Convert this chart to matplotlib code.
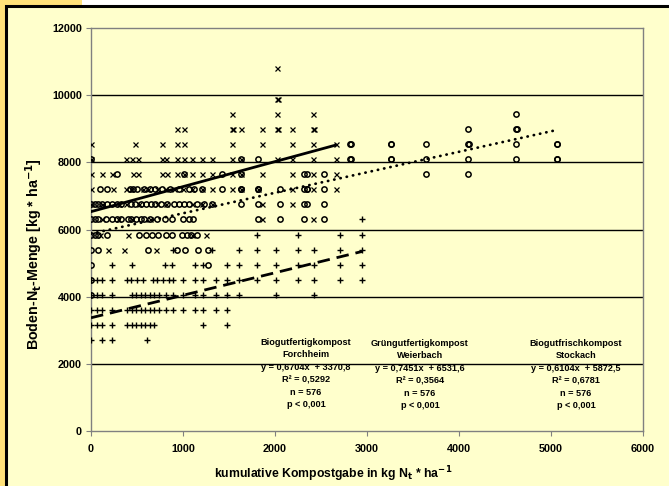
import matplotlib
matplotlib.use("Agg")
import matplotlib.pyplot as plt
from matplotlib.patches import Rectangle

# ---------------- data ----------------
x_ticks = [0, 1000, 2000, 3000, 4000, 5000, 6000]
y_ticks = [0, 2000, 4000, 6000, 8000, 10000, 12000]

# Grüngutfertigkompost Weierbach  (x markers)  rows: (N level, [compost doses])
weier_rows = [
    (10800, [2020]),
    (9900, [2020, 2030]),
    (9450, [1530, 2020, 2415]),
    (9000, [935, 1010, 1530, 1540, 1630, 1860, 2020, 2030, 2190, 2415, 2420]),
    (8550, [0, 475, 770, 935, 1010, 1530, 1860, 2190, 2415, 2660]),
    (8100, [0, 385, 450, 510, 770, 810, 935, 1010, 1100, 1210, 1320, 1530, 1630,
            2020, 2190, 2415, 2660]),
    (7650, [0, 120, 228, 456, 510, 772, 826, 935, 1010, 1100, 1210, 1320, 1530,
            1630, 1860, 2190, 2415, 2660]),
    (7200, [0, 240, 385, 430, 560, 620, 720, 800, 900, 1000, 1100, 1210, 1320,
            1530, 1630, 1810, 2190, 2415, 2660]),
    (6750, [0, 120, 300, 385, 520, 720, 820, 1100, 1210, 1320, 1860, 2190]),
    (6300, [115, 290, 450, 640, 1860, 2415]),
    (5850, [100, 402, 1100, 1250]),
    (5400, [185, 360, 706]),
]

# Biogutfrischkompost Stockach  (o markers)
stock_rows = [
    (9450, [4620]),
    (9000, [4100, 4620, 4625]),
    (8550, [2820, 2825, 3260, 3265, 3640, 4100, 4105, 4620, 5060, 5065]),
    (8100, [0, 1630, 1810, 2820, 2825, 3260, 3265, 3640, 4100, 4620, 5060, 5065]),
    (7650, [283, 1010, 1420, 1630, 2310, 2345, 2530, 3640, 4100]),
    (7200, [98, 174, 420, 460, 500, 580, 640, 700, 770, 860, 960, 1060, 1120,
            1210, 1420, 1630, 1635, 1810, 1815, 2050, 2310, 2345, 2350, 2530]),
    (6750, [0, 40, 80, 120, 170, 230, 280, 330, 430, 480, 540, 600, 650, 700,
            760, 830, 900, 960, 1010, 1060, 1150, 1230, 1320, 1630, 1810, 2050,
            2310, 2345, 2530]),
    (6300, [0, 40, 80, 160, 230, 280, 330, 400, 440, 490, 540, 580, 640, 720,
            800, 880, 1000, 1070, 1110, 1810, 2050, 2310, 2530]),
    (5850, [0, 40, 80, 174, 522, 598, 663, 728, 815, 880, 990, 1040, 1090, 1150]),
    (5400, [0, 76, 620, 940, 1022, 1163, 1272]),
    (4950, [0, 1272]),
    (4500, [0]),
    (4050, [0]),
]

# Biogutfertigkompost Forchheim  (+ markers)
forch_rows = [
    (6300, [2944]),
    (5850, [1805, 2250, 2707, 2946]),
    (5400, [896, 1310, 1609, 1805, 2011, 2250, 2424, 2707, 2946]),
    (4950, [232, 450, 803, 882, 1130, 1217, 1478, 1609, 1805, 2011, 2250, 2424,
            2707, 2946]),
    (4500, [0, 60, 116, 232, 395, 440, 500, 560, 673, 720, 780, 850, 896, 1000,
            1130, 1217, 1359, 1478, 1609, 1805, 2011, 2250, 2424, 2707, 2946]),
    (4050, [0, 60, 116, 232, 441, 490, 540, 590, 640, 690, 740, 810, 896, 1000,
            1130, 1217, 1359, 1478, 1609, 2011, 2424]),
    (3600, [0, 60, 116, 232, 395, 441, 490, 540, 590, 640, 690, 740, 810, 896,
            1000, 1130, 1217, 1359, 1478]),
    (3150, [0, 60, 116, 232, 395, 441, 490, 540, 590, 640, 690, 1217, 1478]),
    (2700, [0, 116, 232, 604]),
]

# regression lines: slope, intercept, x range
forch_fit = (0.6704, 3370.8, 0, 2950)
weier_fit = (0.7451, 6531.6, 0, 2660)
stock_fit = (0.6104, 5872.5, 0, 5030)

forch_text = "Biogutfertigkompost\nForchheim\ny = 0,6704x  + 3370,8\nR² = 0,5292\nn = 576\np < 0,001"
weier_text = "Grüngutfertigkompost\nWeierbach\ny = 0,7451x  + 6531,6\nR² = 0,3564\nn = 576\np < 0,001"
stock_text = "Biogutfrischkompost\nStockach\ny = 0,6104x  + 5872,5\nR² = 0,6781\nn = 576\np < 0,001"


def unpack(rows):
    xs, ys = [], []
    for yv, xl in rows:
        for xv in xl:
            xs.append(xv)
            ys.append(yv)
    return xs, ys


# ---------------- figure ----------------
W, H = 669, 486
fig = plt.figure(figsize=(W / 100, H / 100), dpi=100)
fig.patch.set_facecolor("white")
gold = "#FFE27A"
bg = "#FFFFCC"
fig.patches.append(Rectangle((0, 0), 82 / W, 1, transform=fig.transFigure,
                             facecolor=gold, edgecolor="none", zorder=-5))
fig.patches.append(Rectangle((6 / W, -0.05), 1.1, 1 - 6 / H + 0.05,
                             transform=fig.transFigure, facecolor=bg,
                             edgecolor="black", linewidth=2.2, zorder=-4))

ax = fig.add_axes([91 / W, 1 - 431 / H, (643 - 91) / W, (431 - 28) / H])
ax.set_zorder(5)
ax.set_facecolor(bg)

fam = ["Liberation Sans", "DejaVu Sans"]
narrow = ["Liberation Sans Narrow", "Liberation Sans", "DejaVu Sans"]

for yv in y_ticks[1:-1]:
    ax.axhline(yv, color="black", lw=1.0, zorder=1)

fx, fy = unpack(forch_rows)
wx, wy = unpack(weier_rows)
sx, sy = unpack(stock_rows)
ax.plot(fx, fy, linestyle="none", marker="+", ms=5, mew=1.0, color="black", zorder=3)
ax.plot(wx, wy, linestyle="none", marker="x", ms=3.6, mew=0.9, color="black", zorder=3)
ax.plot(sx, sy, linestyle="none", marker="o", ms=3.8, mew=1.1, mfc="none",
        mec="black", zorder=3)

m, b, x0, x1 = forch_fit
ax.plot([x0, x1], [m * x0 + b, m * x1 + b], color="black", lw=2.0,
        linestyle=(0, (4.5, 2.5)), zorder=4)
m, b, x0, x1 = weier_fit
ax.plot([x0, x1], [m * x0 + b, m * x1 + b], color="black", lw=2.0,
        linestyle="-", zorder=4)
m, b, x0, x1 = stock_fit
ax.plot([x0, x1], [m * x0 + b, m * x1 + b], color="black", lw=2.0,
        linestyle=(0, (0.1, 2.2)), dash_capstyle="round", zorder=4)

ax.set_xlim(0, 6000)
ax.set_ylim(0, 12000)
ax.set_xticks(x_ticks)
ax.set_yticks(y_ticks)
ax.set_xticklabels([str(v) for v in x_ticks], fontsize=7.8, fontweight="bold", family=fam)
ax.set_yticklabels([str(v) for v in y_ticks], fontsize=7.8, fontweight="bold", family=fam)
ax.tick_params(axis="both", direction="out", length=3.5, width=0.8, color="#808080")
ax.tick_params(axis="x", pad=6)
ax.tick_params(axis="y", pad=3)
for s in ["left", "bottom", "top", "right"]:
    ax.spines[s].set_color("#808080")
    ax.spines[s].set_linewidth(1.0)

ax.set_ylabel("Boden-N$_\\mathbf{t}$-Menge [kg * ha$^\\mathbf{-1}$]", fontsize=10.3,
              fontweight="bold", family=fam)
ax.yaxis.set_label_coords(-0.083, 0.44)
ax.set_xlabel("kumulative Kompostgabe in kg N$_\\mathbf{t}$ * ha$^\\mathbf{-1}$", fontsize=8.8,
              fontweight="bold", family=fam)
ax.xaxis.set_label_coords(0.438, -0.083)

for txt, xc, yc in [(forch_text, 2337, 1712), (weier_text, 3576, 1682),
                    (stock_text, 5272, 1682)]:
    ax.text(xc, yc, txt, ha="center", va="center", fontsize=6.6, fontweight="bold",
            family=narrow, linespacing=1.48, zorder=5)

fig.savefig("out.png", dpi=100, facecolor=fig.get_facecolor())
